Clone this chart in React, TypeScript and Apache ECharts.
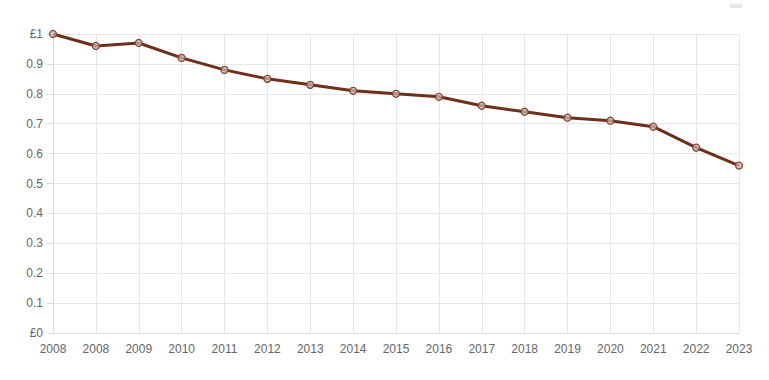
import React, { useEffect, useRef } from "react";
import * as echarts from "echarts";

const years = ["2008", "2008", "2009", "2010", "2011", "2012", "2013", "2014", "2015", "2016", "2017", "2018", "2019", "2020", "2021", "2022", "2023"];
const values = [1.0, 0.96, 0.97, 0.92, 0.88, 0.85, 0.83, 0.81, 0.8, 0.79, 0.76, 0.74, 0.72, 0.71, 0.69, 0.62, 0.56];

export default function App() {
  const ref = useRef<HTMLDivElement>(null);
  useEffect(() => {
    if (!ref.current) return;
    const chart = echarts.init(ref.current, undefined, { renderer: "svg" });
    chart.setOption({
      animation: false,
      textStyle: { fontFamily: "Liberation Sans, Arial, sans-serif" },
      grid: { left: 53, right: 30, top: 34, bottom: 47, containLabel: false },
      graphic: [
        { type: "rect", shape: { x: 730, y: 4, width: 12, height: 4, r: 1 }, style: { fill: "#e6e6e6" } },
      ],
      xAxis: {
        type: "category",
        data: years,
        boundaryGap: false,
        axisLine: { show: true, lineStyle: { color: "#dcdcdc", width: 1 } },
        axisTick: { show: false },
        axisLabel: { color: "#666", fontSize: 12, margin: 10, interval: 0 },
        splitLine: { show: true, lineStyle: { color: "#e6e6e6", width: 1 } },
      },
      yAxis: {
        type: "value",
        min: 0,
        max: 1,
        interval: 0.1,
        axisLine: { show: true, lineStyle: { color: "#dcdcdc", width: 1 } },
        axisTick: { show: true, length: 6, lineStyle: { color: "#dcdcdc" } },
        axisLabel: {
          color: "#666",
          fontSize: 12,
          margin: 10,
          formatter: (v: number) => {
            if (Math.abs(v) < 1e-9) return "£0";
            if (Math.abs(v - 1) < 1e-9) return "£1";
            return v.toFixed(1);
          },
        },
        splitLine: { show: true, lineStyle: { color: "#e6e6e6", width: 1 } },
      },
      series: [
        {
          type: "line",
          data: values,
          symbol: "circle",
          symbolSize: 7,
          showAllSymbol: true,
          lineStyle: { color: "#6e2f1c", width: 3 },
          itemStyle: { color: "rgba(205,180,172,0.75)", borderColor: "#7d4433", borderWidth: 1.2 },
        },
      ],
    });
    return () => chart.dispose();
  }, []);
  return <div ref={ref} style={{ width: 769, height: 380, position: "absolute", left: 0, top: 0 }} />;
}
